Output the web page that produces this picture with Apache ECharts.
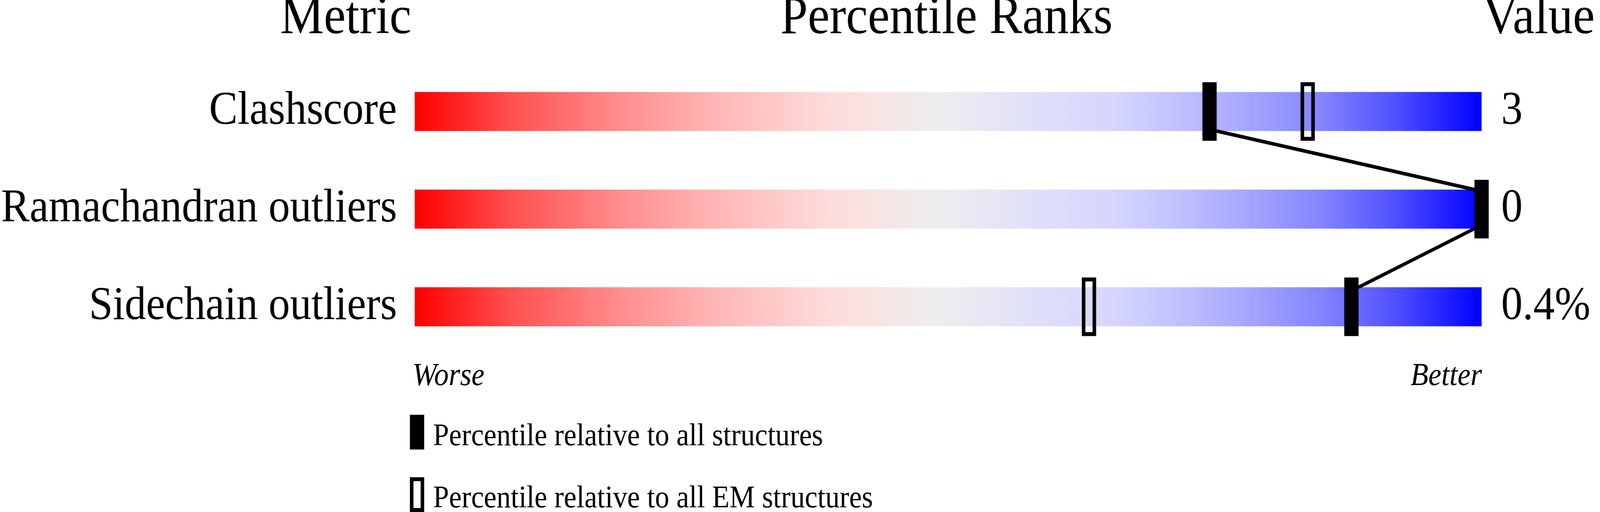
<!DOCTYPE html>
<html>
<head>
<meta charset="utf-8">
<style>
    html, body { margin: 0; padding: 0; background: #fff; overflow: hidden; }
    #main { width: 4485px; height: 1311px; transform-origin: 0 0; }
</style>
<script src="https://cdn.jsdelivr.net/npm/echarts@6/dist/echarts.min.js"></script>
</head>
<body>
<div id="main"></div>
<script>
    // data
    var metrics = ['Clashscore', 'Ramachandran outliers', 'Sidechain outliers'];
    var valueLabels = ['3', '0', '0.4%'];
    var pctAll = [74.5, 100, 87.8];      // percentile relative to all structures
    var pctEM = [83.7, null, 63.2];      // percentile relative to all EM structures
    var headers = ['Metric', 'Percentile Ranks', 'Value'];

    // drawn at 4485x1311, then fitted to the real window
    var dom = document.getElementById('main');
    dom.style.transform = 'scale(' + (window.innerWidth / 4485) + ',' + (window.innerHeight / 1311) + ')';

    var serif = "'Liberation Serif', 'Times New Roman', serif";
    var markW = 40, markH = 150, barH = 100, lw = 10;

    var grad = new echarts.graphic.LinearGradient(0, 0, 1, 0, [
        { offset: 0, color: '#FF0000' },
        { offset: 0.09, color: '#FF5050' },
        { offset: 0.19, color: '#FF8C8C' },
        { offset: 0.28, color: '#FFB6B6' },
        { offset: 0.39, color: '#FFDCDC' },
        { offset: 0.49, color: '#EEEEEE' },
        { offset: 0.58, color: '#E0E0FA' },
        { offset: 0.66, color: '#D5D5FF' },
        { offset: 0.73, color: '#BBBBFF' },
        { offset: 0.78, color: '#A6A6FF' },
        { offset: 0.85, color: '#8484FF' },
        { offset: 0.92, color: '#4F4FFF' },
        { offset: 1, color: '#0000FF' }
    ]);

    var allData = pctAll.map(function (v, i) { return [v, i]; });
    var emData = [];
    pctEM.forEach(function (v, i) { if (v != null) emData.push([v, i]); });
    var linkData = [];
    for (var i = 0; i < pctAll.length - 1; i++) {
        linkData.push([pctAll[i], i, pctAll[i + 1], i + 1]);
    }

    function markRect(api, filled) {
        var p = api.coord([api.value(0), api.value(1)]);
        if (filled) {
            return { type: 'rect', z2: 10,
                shape: { x: p[0] - markW / 2, y: p[1] - markH / 2, width: markW, height: markH },
                style: { fill: '#000' } };
        }
        return { type: 'rect', z2: 10,
            shape: { x: p[0] - markW / 2 + lw / 2, y: p[1] - markH / 2 + lw / 2, width: markW - lw, height: markH - lw },
            style: { fill: null, stroke: '#000', lineWidth: lw } };
    }

    function txt(x, y, text, size, align, italic) {
        return { type: 'text', x: x, y: y, silent: true,
            style: { text: text, fontSize: size, fontFamily: serif, fontStyle: italic ? 'italic' : 'normal',
                     fill: '#000', align: align, verticalAlign: 'middle' } };
    }

    var myChart = echarts.init(dom);
    var option = {
        animation: false,
        backgroundColor: '#fff',
        grid: { left: 1153, right: 332, top: 160.5, bottom: 400.5 },
        xAxis: { type: 'value', min: 0, max: 100, show: false },
        yAxis: [
            {
                type: 'category', data: metrics, inverse: true,
                axisLine: { show: false }, axisTick: { show: false }, splitLine: { show: false },
                axisLabel: { fontSize: 120, fontFamily: serif, color: '#000', margin: 50, padding: [22, 0, 0, 0] }
            },
            {
                type: 'category', data: valueLabels, inverse: true, position: 'right',
                axisLine: { show: false }, axisTick: { show: false }, splitLine: { show: false },
                axisLabel: { fontSize: 120, fontFamily: serif, color: '#000', margin: 55, padding: [22, 0, 0, 0] }
            }
        ],
        series: [
            {
                type: 'bar', silent: true, barWidth: barH,
                data: metrics.map(function () { return 100; }),
                itemStyle: { color: grad }
            },
            {
                type: 'custom', silent: true, data: linkData, z: 3,
                renderItem: function (params, api) {
                    var p0 = api.coord([api.value(0), api.value(1)]);
                    var p1 = api.coord([api.value(2), api.value(3)]);
                    var s = p1[0] >= p0[0] ? 1 : -1;
                    return { type: 'line',
                        shape: { x1: p0[0] + s * markW / 2, y1: p0[1] + barH / 2,
                                 x2: p1[0] - s * markW / 2, y2: p1[1] - barH / 2 },
                        style: { stroke: '#000', lineWidth: 9 } };
                }
            },
            {
                type: 'custom', silent: true, data: emData, z: 4,
                renderItem: function (params, api) { return markRect(api, false); }
            },
            {
                type: 'custom', silent: true, data: allData, z: 5,
                renderItem: function (params, api) { return markRect(api, true); }
            }
        ],
        graphic: [
            txt(1153, 49, headers[0], 138, 'right'),
            txt(2653, 49, headers[1], 138, 'center'),
            txt(4156, 49, headers[2], 138, 'left'),
            txt(1156, 964, 'Worse', 82, 'left', true),
            txt(4154, 964, 'Better', 82, 'right', true),
            // legend
            { type: 'rect', silent: true, shape: { x: 1149, y: 1062, width: 40, height: 89 }, style: { fill: '#000' } },
            txt(1214, 1119, 'Percentile relative to all structures', 80, 'left'),
            { type: 'rect', silent: true, shape: { x: 1149 + lw / 2, y: 1222 + lw / 2, width: 40 - lw, height: 89 - lw }, style: { fill: null, stroke: '#000', lineWidth: lw } },
            txt(1214, 1278, 'Percentile relative to all EM structures', 80, 'left')
        ]
    };
    myChart.setOption(option);
</script>
</body>
</html>
